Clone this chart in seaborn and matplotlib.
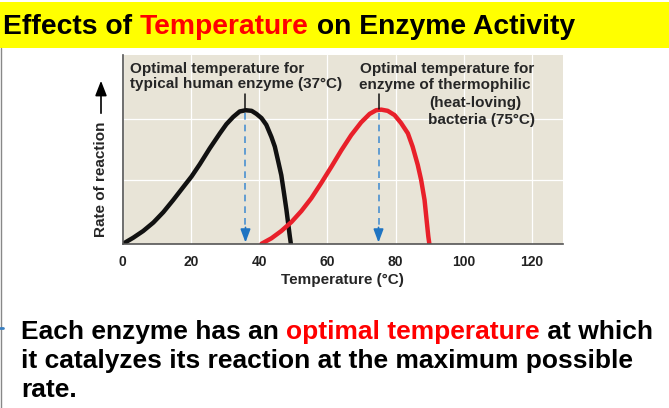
import numpy as np
import pandas as pd
import seaborn as sns
import matplotlib.pyplot as plt

# values
human_temp = [0.0, 0.7, 3.1, 6.0, 9.0, 11.9, 14.8, 17.7, 20.2, 22.6, 25.5, 28.5, 30.4, 32.4,
              34.3, 36.1, 37.8, 39.2, 40.7, 42.1, 43.6, 44.6, 45.5, 46.5, 47.3, 48.0, 48.5,
              49.0, 49.3]
human_rate = [-0.05, -0.03, 0.05, 0.16, 0.30, 0.47, 0.67, 0.88, 1.06, 1.26, 1.52, 1.77, 1.92,
              2.04, 2.13, 2.15, 2.14, 2.09, 2.02, 1.91, 1.71, 1.55, 1.33, 1.08, 0.78, 0.51,
              0.29, 0.07, -0.05]
thermo_temp = [40.7, 43.6, 46.5, 49.5, 52.4, 55.3, 58.2, 61.2, 64.1, 67.0, 69.9, 72.4, 74.3,
               75.8, 77.7, 79.7, 81.6, 83.6, 85.0, 86.5, 87.5, 88.5, 89.1, 89.6, 89.9]
thermo_rate = [-0.05, 0.04, 0.16, 0.31, 0.49, 0.70, 0.95, 1.22, 1.49, 1.74, 1.95, 2.09, 2.15,
               2.16, 2.14, 2.07, 1.94, 1.77, 1.55, 1.25, 1.00, 0.67, 0.34, 0.07, -0.05]
optima = [36, 75]
x_ticks = [0, 20, 40, 60, 80, 100, 120]

W, H = 669, 408
BG = '#e8e4d7'
BLUE = '#1f74c2'

sns.set_style('white')
plt.rcParams['font.family'] = ['Liberation Sans', 'DejaVu Sans']
plt.rcParams['font.weight'] = 'bold'

fig = plt.figure(figsize=(W / 100, H / 100), dpi=100)


def fx(x):
    return x / W


def fy(y):
    return 1 - y / H


# yellow title banner
fig.patches.append(plt.Rectangle((0, fy(48)), 1, 46 / H, transform=fig.transFigure,
                                 facecolor='#ffff00', edgecolor='none'))
fig.lines.append(plt.Line2D([fx(0.5), fx(0.5)], [fy(48), 0], transform=fig.transFigure,
                            color='#888888', lw=1))

renderer = fig.canvas.get_renderer()


def colored_line(x, y, parts, size):
    # draw text pieces one after another on one baseline
    for txt, col in parts:
        t = fig.text(fx(x), fy(y), txt, color=col, fontsize=size, fontweight='bold',
                     va='baseline', ha='left')
        bb = t.get_window_extent(renderer=renderer)
        x += bb.width


colored_line(3, 34, [('Effects of ', 'black'), ('Temperature', '#ff0000'),
                     (' on Enzyme Activity', 'black')], 20.3)

ax = fig.add_axes([fx(122.7), fy(244), 440 / W, 189 / H])
ax.set_facecolor(BG)

df_h = pd.DataFrame({'Temperature': human_temp, 'Rate': human_rate})
df_t = pd.DataFrame({'Temperature': thermo_temp, 'Rate': thermo_rate})
sns.lineplot(data=df_h, x='Temperature', y='Rate', ax=ax, color='#111111', lw=3.2,
             sort=False, estimator=None, solid_joinstyle='round')
sns.lineplot(data=df_t, x='Temperature', y='Rate', ax=ax, color='#e8202a', lw=3.2,
             sort=False, estimator=None, solid_joinstyle='round')

ax.set_xlim(0, 129)
ax.set_ylim(-0.054, 3.06)
ax.set_xticks(x_ticks)
ax.set_xticklabels([str(v) for v in x_ticks], fontsize=10, fontweight='bold', color='#222222')
ax.set_yticks([1, 2])
ax.set_yticklabels([])
ax.tick_params(length=0, pad=8)
ax.grid(True, color='white', lw=0.9)
ax.set_axisbelow(True)
for s in ['top', 'right']:
    ax.spines[s].set_visible(False)
for s in ['left', 'bottom']:
    ax.spines[s].set_color('#555555')
    ax.spines[s].set_linewidth(1.2)
ax.set_xlabel('')
ax.set_ylabel('')

# dashed arrows to optimum and marker lines
for t in optima:
    ax.plot([t, t], [2.1, 0.2], color='#4a90d0', lw=1.2, ls=(0, (4, 3)))
    ax.annotate('', xy=(t, -0.03), xytext=(t, 0.22),
                arrowprops=dict(arrowstyle='-|>,head_length=0.8,head_width=0.3',
                                color=BLUE, lw=1.2, mutation_scale=10,
                                shrinkA=0, shrinkB=0))
    ax.plot([t, t], [2.17, 2.42], color='#111111', lw=1.1)

fig.text(fx(130), fy(73), 'Optimal temperature for', fontsize=11, va='baseline')
fig.text(fx(130), fy(88), 'typical human enzyme (37°C)', fontsize=11, va='baseline')
fig.text(fx(360), fy(73), 'Optimal temperature for', fontsize=11, va='baseline')
fig.text(fx(359), fy(89), 'enzyme of thermophilic', fontsize=11, va='baseline')
fig.text(fx(429), fy(107), '(heat-loving)', fontsize=11, va='baseline')
fig.text(fx(428), fy(124), 'bacteria (75°C)', fontsize=11, va='baseline')

fig.text(fx(342.7), fy(280), 'Temperature (°C)', fontsize=11, ha='center', va='center')
fig.text(fx(101), fy(237), 'Rate of reaction', fontsize=11, rotation=90,
         ha='center', va='bottom')
fig.patches.append(plt.matplotlib.patches.FancyArrowPatch(
    (fx(101), fy(116)), (fx(101), fy(78)), transform=fig.transFigure,
    arrowstyle='-|>,head_length=0.9,head_width=0.35', mutation_scale=10,
    color='black', lw=1.2))

# bullet text
colored_line(21, 339, [('Each enzyme has an ', 'black'), ('optimal temperature', '#ff0000'),
                       (' at which', 'black')], 19)
colored_line(21, 368, [('it catalyzes its reaction at the maximum possible', 'black')], 19)
colored_line(21, 397, [('rate.', 'black')], 19)
fig.lines.append(plt.Line2D([0, fx(3)], [fy(328), fy(328)], transform=fig.transFigure,
                            color='#3a7fc0', lw=2))

fig.savefig('out.png', dpi=100)
